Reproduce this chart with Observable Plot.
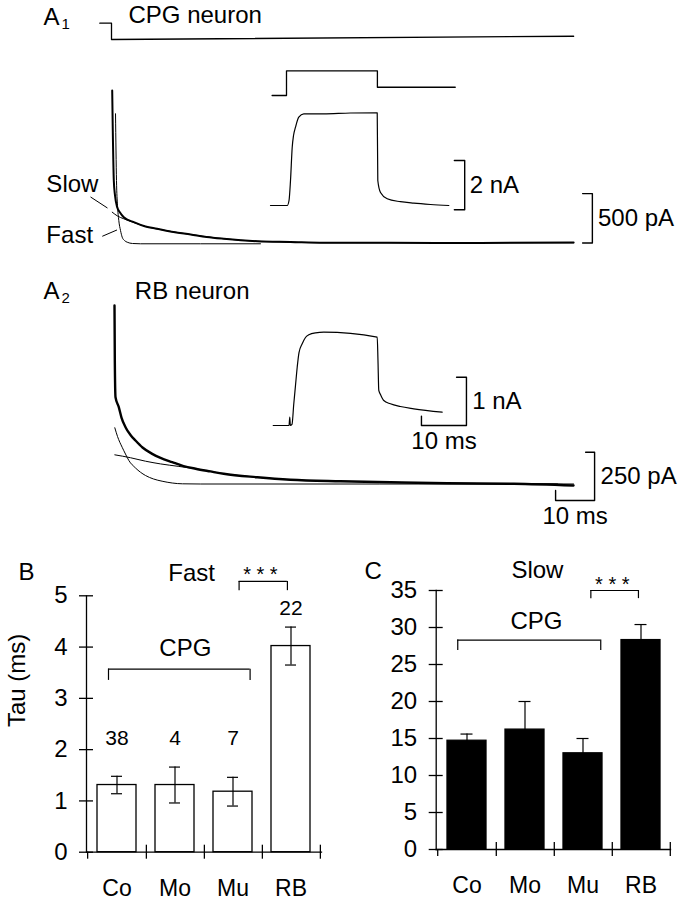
<!DOCTYPE html>
<html><head><meta charset="utf-8">
<script src="https://cdn.jsdelivr.net/npm/d3@7"></script>
<script src="https://cdn.jsdelivr.net/npm/@observablehq/plot@0.6"></script>
<style>
html,body{margin:0;padding:0;background:#fff;}
#fig{position:relative;width:684px;height:900px;overflow:hidden;background:#fff;}
</style></head>
<body><div id="fig"></div>
<script>
// ================= DATA =================
// A1 — CPG neuron: voltage command (ms, mV)
const a1CmdT = [-3.0, 0, 0, 118.5];
const a1CmdV = [-60, -60, -80, -76];
// A1 — current trace (ms, pA)
const a1TraceT = [0.18, 0.33, 0.59, 0.90, 1.46, 2.18, 3.15, 5.72, 8.72, 11.7, 15.9, 20.3, 24.4, 28.8, 37.4, 45.9, 54.4, 71.5, 94.6, 118.5];
const a1TraceI = [1543, 1139, 633, 481, 362, 309, 261, 211, 167, 144, 111, 86, 61, 43, 18, 10, 2, 2, 0, 5];
// A1 — fast exponential fit
const a1FastT = [1.03, 1.28, 1.54, 1.87, 2.31, 2.74, 3.33, 4.03, 5.4, 7.44, 38.2];
const a1FastI = [1308, 633, 380, 228, 127, 59, 25, 8, -5, -8, -8];
// A1 — slow exponential fit
const a1SlowT = [0.18, 1.54, 3.15, 5.72, 8.72, 11.7, 20.3, 28.8, 37.4, 54.4, 118.5];
const a1SlowI = [312, 273, 245, 207, 167, 142, 86, 43, 18, 3, 2];
// A1 inset — command (ms, mV) and current (ms, pA)
const a1InsetCmdT = [-3.2, 0, 0, 20.2, 20.2, 37.5];
const a1InsetCmdV = [-60, -60, -30, -30, -50, -50];
const a1InsetT = [-3.56, 0.16, 0.56, 0.89, 1.27, 1.56, 2.0, 2.73, 3.84, 8.22, 14.2, 20.16, 20.29, 20.89, 22.38, 25.3, 28.29, 32.0, 36.07];
const a1InsetI = [0, 0, 203, 1014, 2365, 2840, 3176, 3582, 3720, 3720, 3753, 3761, 1014, 527, 272, 154, 93, 41, 0];
// A2 — RB neuron: current trace and fits (ms, pA)
const a2TraceT = [0, 0.08, 0.26, 1.1, 1.79, 2.82, 4.1, 5.38, 7.18, 9.67, 11.8, 14.8, 17.7, 20.8, 24.6, 28.0, 36.6, 45.1, 57.9, 70.8, 85.3, 102.4, 117.7];
const a2TraceI = [924, 639, 449, 398, 344, 294, 254, 225, 189, 156, 135, 113, 93, 79, 65, 53, 35, 22, 14, 9, 4, 1, -8];
const a2FastT = [0.08, 0.77, 1.97, 2.82, 3.67, 5.38, 7.95, 10.0, 12.2, 17.4, 22.1, 113.6];
const a2FastI = [291, 246, 190, 155, 122, 83, 44, 26, 14.5, 1, 0, 0];
const a2SlowT = [0.08, 4.1, 7.95, 11.8, 16.5, 20.8, 28.0, 36.6, 45.1, 57.9, 70.8, 85.3, 102.4, 117.7];
const a2SlowI = [151, 136, 118, 104, 91, 79, 53, 35, 22, 14, 9, 4, 1, 0];
// A2 inset — current (ms, pA)
const a2InsetT = [-3.84, -0.33, -0.16, -0.04, 0.33, 0.73, 1.11, 1.49, 1.89, 2.6, 3.33, 4.07, 5.56, 7.4, 19.27, 19.44, 19.62, 20.0, 20.73, 22.2, 24.4, 27.4, 33.7];
const a2InsetI = [0, 0, 172, 0, 21, 449, 828, 1207, 1511, 1692, 1822, 1878, 1919, 1932, 1828, 1346, 725, 642, 518, 449, 393, 346, 275];
// Scale bars
const scaleAmps = [500, 2000, 1000, 250];            // pA
const scaleLabels = ["500 pA", "2 nA", "1 nA", "250 pA"];
const timeBarMs = 10;
const timeBarLabel = "10 ms";
// Panel titles / labels
const panelTitles = ["CPG neuron", "RB neuron"];
const fitLabels = ["Slow", "Fast"];
// B, C — decay time constants
const categories = ["Co", "Mo", "Mu", "RB"];
const fastMean = [1.31, 1.31, 1.18, 4.02];
const fastSE = [0.17, 0.35, 0.28, 0.37];
const slowMean = [14.7, 16.2, 13.0, 28.3];
const slowSE = [0.9, 3.8, 2.0, 2.1];
const nCells = [38, 4, 7, 22];
const fastTicks = [0, 1, 2, 3, 4, 5];
const slowTicks = [0, 5, 10, 15, 20, 25, 30, 35];

// ================= HELPERS =================
const FONT = "'Liberation Sans', Arial, Helvetica, sans-serif";
const STYLE = {background: "transparent", overflow: "visible", fontFamily: FONT, color: "#000"};
const fig = document.getElementById("fig");
function put(svg, left, top) {
  svg.style.position = "absolute";
  svg.style.left = left + "px";
  svg.style.top = top + "px";
  svg.style.maxWidth = "none";
  fig.appendChild(svg);
}
const rows = (T, V) => T.map((t, i) => ({t, v: V[i]}));
function tracePanel(xs, ys, marks) {
  return Plot.plot({
    width: 684, height: 530, margin: 0,
    x: {type: "linear", domain: xs[0], range: xs[1], axis: null},
    y: {type: "linear", domain: ys[0], range: ys[1], axis: null},
    style: STYLE, marks
  });
}
const lab = (t, v, s, opts = {}) => Plot.text([{t, v, s}], {x: "t", y: "v", text: "s", fontSize: 24, ...opts});
const fixed = (s, dx, dy, opts = {}) => Plot.text([s], {text: d => d, frameAnchor: "top-left", dx, dy, textAnchor: "start", lineAnchor: "bottom", fontSize: 24, ...opts});
const vBracket = (tx, tick, v0, amp) => [{t: tx - tick, v: v0 + amp}, {t: tx, v: v0 + amp}, {t: tx, v: v0}, {t: tx - tick, v: v0}];
const lBracket = (tx, tick, v0, amp, dur, up) => [{t: tx - tick, v: v0 + amp}, {t: tx, v: v0 + amp}, {t: tx, v: v0}, {t: tx - dur, v: v0}, {t: tx - dur, v: v0 + up}];
const trace = (data, sw) => Plot.line(data, {x: "t", y: "v", curve: "monotone-x", strokeWidth: sw, stroke: "black"});
const steps = (data) => Plot.line(data, {x: "t", y: "v", strokeWidth: 1.3, stroke: "black"});
const barLine = (data) => Plot.line(data, {x: "t", y: "v", strokeWidth: 1.4, stroke: "black"});

// ================= A1 =================
const a1X = [[0, 100], [111, 501]];
put(tracePanel(a1X, [[-80, -60], [39, 22.7]], [steps(rows(a1CmdT, a1CmdV))]), 0, 0);
put(tracePanel(a1X, [[0, 500], [242.5, 193.1]], [
  trace(rows(a1SlowT, a1SlowI), 1),
  trace(rows(a1FastT, a1FastI), 1),
  trace(rows(a1TraceT, a1TraceI), 2),
  barLine(vBracket(123.3, 2.5, 0, scaleAmps[0])),
  lab(123.3, scaleAmps[0] / 2, scaleLabels[0], {textAnchor: "start", dx: 5.6}),
  lab(-16.7, 521, fitLabels[0], {textAnchor: "start", lineAnchor: "bottom"}),
  lab(-16.7, -5, fitLabels[1], {textAnchor: "start", lineAnchor: "bottom"}),
  Plot.link([{a: -5.38, b: 466, c: -1.03, d: 354}, {a: -2.36, b: 68, c: 1.41, d: 132}], {x1: "a", y1: "b", x2: "c", y2: "d", strokeWidth: 1}),
  fixed("A", 43, 24),
  fixed("1", 61, 28.5, {fontSize: 15}),
  fixed(panelTitles[0], 128, 22.7)
]), 0, 0);
const a1InX = [[0, 10], [286, 331]];
put(tracePanel(a1InX, [[-60, -30], [95, 70.3]], [steps(rows(a1InsetCmdT, a1InsetCmdV))]), 0, 0);
put(tracePanel(a1InX, [[0, 2000], [205, 155.7]], [
  trace(rows(a1InsetT, a1InsetI), 1.2),
  barLine(vBracket(39.6, 2.3, -175, scaleAmps[1])),
  lab(39.6, -175 + scaleAmps[1] / 2, scaleLabels[1], {textAnchor: "start", dx: 5})
]), 0, 0);

// ================= A2 =================
put(tracePanel([[0, 100], [114, 504]], [[0, 250], [483.5, 435.2]], [
  trace(rows(a2SlowT, a2SlowI), 1),
  trace(rows(a2FastT, a2FastI), 1),
  trace(rows(a2TraceT, a2TraceI), 2.4),
  barLine(lBracket(123.1, 2.3, -85.4, scaleAmps[3], timeBarMs, 51.8)),
  lab(123.1, -85.4 + scaleAmps[3] / 2, scaleLabels[3], {textAnchor: "start", dx: 6}),
  lab(123.1 - timeBarMs / 2, -85.4, timeBarLabel, {lineAnchor: "top", dy: 6}),
  fixed("A", 43, 298),
  fixed("2", 61, 302.5, {fontSize: 15}),
  fixed(panelTitles[1], 134.3, 298.3)
]), 0, 0);
put(tracePanel([[0, 10], [290, 335]], [[0, 1000], [425, 376.7]], [
  trace(rows(a2InsetT, a2InsetI), 1.2),
  barLine(lBracket(39.1, 2.2, 0, scaleAmps[2], timeBarMs, 193)),
  lab(39.1, scaleAmps[2] / 2, scaleLabels[2], {textAnchor: "start", dx: 5.7}),
  lab(39.1 - timeBarMs / 2, 0, timeBarLabel, {lineAnchor: "top", dy: 6})
]), 0, 0);

// ================= B & C =================
const padI = 0.336, padO = 0.168;
const intFmt = d3.format("d");
function bracket(a, b, level, drop, inL, inR, bw) {
  const d = [{a, b, y: level, y0: level - drop}];
  return [
    Plot.ruleY(d, {y: "y", x1: "a", x2: "b", insetLeft: inL, insetRight: inR, strokeWidth: 1.2}),
    Plot.ruleX(d, {x: "a", y1: "y0", y2: "y", dx: inL - bw / 2, strokeWidth: 1.2}),
    Plot.ruleX(d, {x: "b", y1: "y0", y2: "y", dx: bw / 2 - inR, strokeWidth: 1.2})
  ];
}
function barPanel({data, yDomain, ticks, fill, W, mL, mR, mT, mB, capInset, extra}) {
  const step = (W - mL - mR) / categories.length;
  const bw = step * (1 - padI);
  return Plot.plot({
    width: W, height: 400, marginLeft: mL, marginRight: mR, marginTop: mT, marginBottom: mB,
    x: {type: "band", domain: categories, paddingInner: padI, paddingOuter: padO},
    y: {type: "linear", domain: yDomain},
    style: STYLE,
    marks: [
      Plot.barY(data, {x: "cat", y: "mean", fill, stroke: "black", strokeWidth: 1.3}),
      Plot.ruleX(data, {x: "cat", y1: d => d.mean - d.se, y2: d => d.mean + d.se, strokeWidth: 1.2}),
      Plot.tickY(data, {x: "cat", y: d => d.mean - d.se, insetLeft: capInset, insetRight: capInset, strokeWidth: 1.2}),
      Plot.tickY(data, {x: "cat", y: d => d.mean + d.se, insetLeft: capInset, insetRight: capInset, strokeWidth: 1.2}),
      Plot.frame({anchor: "left", strokeWidth: 1.3}),
      Plot.frame({anchor: "bottom", strokeWidth: 1.3}),
      Plot.axisY({ticks, tickFormat: intFmt, tickSize: 14, dx: 7, tickPadding: 12, fontSize: 24, label: null, strokeWidth: 1.3}),
      Plot.axisX({tickSize: 14, dx: step / 2, dy: -7, tickFormat: () => "", label: null, strokeWidth: 1.3}),
      Plot.axisX({ticks: [categories[0]], tickSize: 7, dx: -step / 2, tickFormat: () => "", label: null, strokeWidth: 1.3}),
      Plot.axisX({tickSize: 0, tickPadding: 27, fontSize: 23, label: null}),
      ...extra(step, bw)
    ]
  });
}
const fastRows = categories.map((c, i) => ({cat: c, mean: fastMean[i], se: fastSE[i], n: nCells[i]}));
const slowRows = categories.map((c, i) => ({cat: c, mean: slowMean[i], se: slowSE[i], n: nCells[i]}));

put(barPanel({
  data: fastRows, yDomain: [0, 5], ticks: fastTicks, fill: "white",
  W: 342, mL: 86, mR: 21, mT: 95.3, mB: 48.3, capInset: 14,
  extra: (step, bw) => [
    ...bracket("Co", "Mu", 3.57, 0.22, 11, 2.4, bw),
    ...bracket("Mu", "RB", 5.28, 0.18, 25.6, 23.1, bw),
    Plot.text(fastRows.filter(d => d.cat !== "RB"), {x: "cat", y: () => 2.22, text: "n", fontSize: 21}),
    Plot.text(fastRows.filter(d => d.cat === "RB"), {x: "cat", y: d => d.mean + d.se, dy: -19, text: "n", fontSize: 21}),
    Plot.text([{c: "Mo", y: 3.97, s: "CPG"}], {x: "c", y: "y", text: "s", dx: 10.3, fontSize: 24}),
    Plot.text([{c: "Mo", y: 5.44, s: "Fast"}], {x: "c", y: "y", text: "s", dx: 16.6, fontSize: 24}),
    Plot.text([{c: "Mu", y: 5.28, s: "* * *"}], {x: "c", y: "y", text: "s", dx: step / 2 - 2, lineAnchor: "bottom", fontSize: 20}),
    Plot.text(["Tau (ms)"], {text: d => d, frameAnchor: "left", rotate: -90, dx: -69.3, dy: 3, fontSize: 24}),
    fixed("B", -68, -16)
  ]
}), 0, 500);

put(barPanel({
  data: slowRows, yDomain: [0, 35], ticks: slowTicks, fill: "black",
  W: 342, mL: 93.7, mR: 14, mT: 90, mB: 51, capInset: 13.5,
  extra: (step, bw) => [
    ...bracket("Co", "Mu", 28.3, 1.4, 10.2, 1.7, bw),
    ...bracket("Mu", "RB", 35.0, 1.1, 27.3, 22, bw),
    Plot.text([{c: "Mo", y: 30.9, s: "CPG"}], {x: "c", y: "y", text: "s", dx: 11.4, fontSize: 24}),
    Plot.text([{c: "Mo", y: 37.7, s: "Slow"}], {x: "c", y: "y", text: "s", dx: 12.4, fontSize: 24}),
    Plot.text([{c: "Mu", y: 35.0, s: "* * *"}], {x: "c", y: "y", text: "s", dx: step / 2, lineAnchor: "bottom", fontSize: 20}),
    fixed("C", -71.7, -11.7)
  ]
}), 342, 500);
</script>
</body></html>
